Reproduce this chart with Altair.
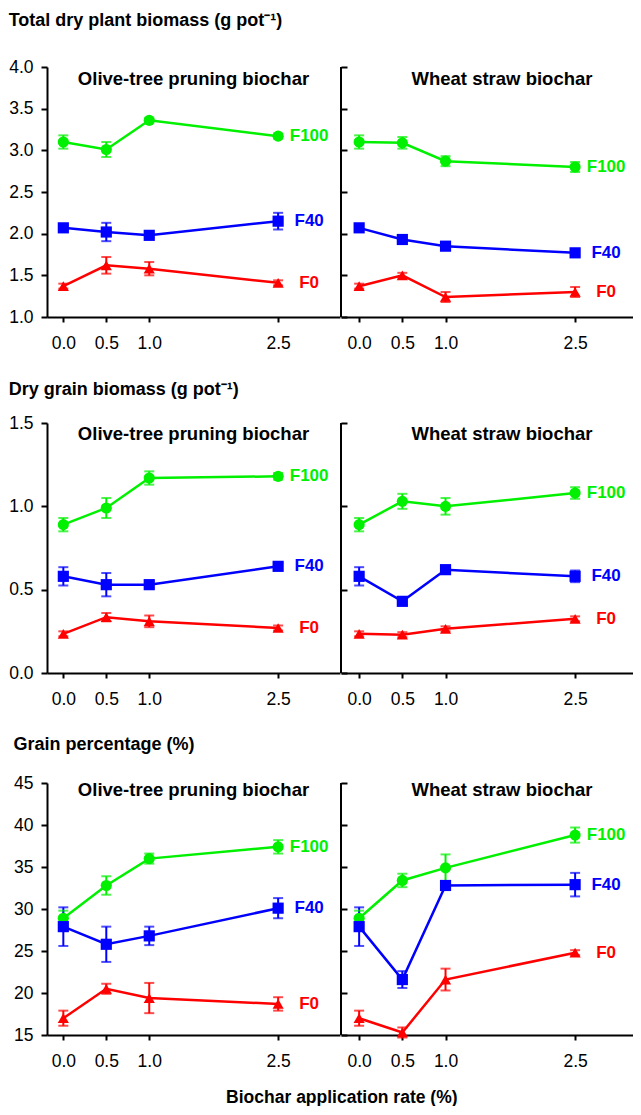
import altair as alt
import pandas as pd

FONT = "Liberation Sans"

rates = [0.0, 0.5, 1.0, 2.5]
treatments = ["F100", "F40", "F0"]
biochars = ["Olive-tree pruning biochar", "Wheat straw biochar"]
series_colors = ["#00f000", "#0000ff", "#ff0000"]
series_shapes = ["circle", "square", "triangle-up"]

# ---- Total dry plant biomass (g pot-1): means and error (+/-) ----
total_olive_F100 = [3.10, 3.01, 3.36, 3.17]
total_olive_F100_err = [0.08, 0.09, 0.03, 0.03]
total_olive_F40 = [2.07, 2.02, 1.98, 2.15]
total_olive_F40_err = [0.03, 0.11, 0.03, 0.10]
total_olive_F0 = [1.37, 1.62, 1.58, 1.41]
total_olive_F0_err = [0.03, 0.10, 0.08, 0.03]
total_wheat_F100 = [3.10, 3.09, 2.87, 2.80]
total_wheat_F100_err = [0.08, 0.07, 0.06, 0.06]
total_wheat_F40 = [2.07, 1.93, 1.85, 1.77]
total_wheat_F40_err = [0.03, 0.03, 0.03, 0.03]
total_wheat_F0 = [1.37, 1.50, 1.24, 1.30]
total_wheat_F0_err = [0.03, 0.03, 0.06, 0.06]

# ---- Dry grain biomass (g pot-1) ----
grain_olive_F100 = [0.89, 0.99, 1.17, 1.18]
grain_olive_F100_err = [0.04, 0.06, 0.04, 0.02]
grain_olive_F40 = [0.58, 0.53, 0.53, 0.64]
grain_olive_F40_err = [0.055, 0.07, 0.02, 0.02]
grain_olive_F0 = [0.235, 0.335, 0.31, 0.27]
grain_olive_F0_err = [0.015, 0.025, 0.035, 0.015]
grain_wheat_F100 = [0.89, 1.03, 1.00, 1.08]
grain_wheat_F100_err = [0.04, 0.045, 0.05, 0.035]
grain_wheat_F40 = [0.58, 0.43, 0.62, 0.58]
grain_wheat_F40_err = [0.055, 0.02, 0.02, 0.035]
grain_wheat_F0 = [0.235, 0.23, 0.265, 0.325]
grain_wheat_F0_err = [0.015, 0.015, 0.015, 0.015]

# ---- Grain percentage (%) ----
pct_olive_F100 = [28.9, 32.8, 36.0, 37.4]
pct_olive_F100_err = [0.9, 1.1, 0.6, 0.8]
pct_olive_F40 = [27.9, 25.8, 26.8, 30.1]
pct_olive_F40_err = [2.3, 2.1, 1.1, 1.2]
pct_olive_F0 = [17.0, 20.5, 19.4, 18.7]
pct_olive_F0_err = [0.9, 0.6, 1.8, 0.8]
pct_wheat_F100 = [28.9, 33.4, 34.9, 38.8]
pct_wheat_F100_err = [0.9, 0.8, 1.6, 0.9]
pct_wheat_F40 = [27.9, 21.6, 32.8, 32.9]
pct_wheat_F40_err = [2.3, 1.0, 0.3, 1.4]
pct_wheat_F0 = [17.0, 15.3, 21.6, 24.8]
pct_wheat_F0_err = [0.9, 0.6, 1.3, 0.3]

row_titles = [
    "Total dry plant biomass (g pot\u207b\u00b9)",
    "Dry grain biomass (g pot\u207b\u00b9)",
    "Grain percentage (%)",
]
x_title = "Biochar application rate (%)"

series = {
    ("total", 0): [(total_olive_F100, total_olive_F100_err), (total_olive_F40, total_olive_F40_err), (total_olive_F0, total_olive_F0_err)],
    ("total", 1): [(total_wheat_F100, total_wheat_F100_err), (total_wheat_F40, total_wheat_F40_err), (total_wheat_F0, total_wheat_F0_err)],
    ("grain", 0): [(grain_olive_F100, grain_olive_F100_err), (grain_olive_F40, grain_olive_F40_err), (grain_olive_F0, grain_olive_F0_err)],
    ("grain", 1): [(grain_wheat_F100, grain_wheat_F100_err), (grain_wheat_F40, grain_wheat_F40_err), (grain_wheat_F0, grain_wheat_F0_err)],
    ("pct", 0): [(pct_olive_F100, pct_olive_F100_err), (pct_olive_F40, pct_olive_F40_err), (pct_olive_F0, pct_olive_F0_err)],
    ("pct", 1): [(pct_wheat_F100, pct_wheat_F100_err), (pct_wheat_F40, pct_wheat_F40_err), (pct_wheat_F0, pct_wheat_F0_err)],
}

W_LEFT, W_RIGHT = 293, 292


def table(metric, side):
    rows = []
    for t, (vals, errs) in zip(treatments, series[(metric, side)]):
        for r, v, e in zip(rates, vals, errs):
            rows.append({"treatment": t, "rate": r, "mean": v, "lo": v - e, "hi": v + e})
    return pd.DataFrame(rows)


def panel(metric, side, ydom, yticks, yfmt, title_y, h):
    df = table(metric, side)
    w = W_LEFT if side == 0 else W_RIGHT
    xdom = [-0.19, 3.22] if side == 0 else [-0.21, 3.17]
    if side == 0:
        yaxis = alt.Axis(values=yticks, format=yfmt, title=None, tickSize=6, labelPadding=8)
    else:
        yaxis = alt.Axis(values=yticks, title=None, labels=False, domain=False, tickSize=6, offset=-6)
    xaxis = alt.Axis(values=rates, format=".1f", title=None, tickSize=5, labelPadding=12)
    xs = alt.Scale(domain=xdom, nice=False, zero=False)
    ys = alt.Scale(domain=ydom, nice=False, zero=False)

    def X():
        return alt.X("rate:Q", scale=xs, axis=xaxis)

    def Y(f):
        return alt.Y(f + ":Q", scale=ys, axis=yaxis)

    color = alt.Color("treatment:N", scale=alt.Scale(domain=treatments, range=series_colors), legend=None)
    shape = alt.Shape("treatment:N", scale=alt.Scale(domain=treatments, range=series_shapes), legend=None)
    base = alt.Chart(df)
    line = base.mark_line(strokeWidth=2.5).encode(x=X(), y=Y("mean"), color=color)
    bars = base.mark_rule(strokeWidth=2).encode(x=X(), y=Y("lo"), y2="hi:Q", color=color)
    cap_lo = base.mark_tick(orient="horizontal", size=10, thickness=2).encode(x=X(), y=Y("lo"), color=color)
    cap_hi = base.mark_tick(orient="horizontal", size=10, thickness=2).encode(x=X(), y=Y("hi"), color=color)
    pts = base.mark_point(filled=True, size=125, opacity=1).encode(x=X(), y=Y("mean"), color=color, shape=shape)
    labels = base.transform_filter(alt.datum.rate == 2.5).mark_text(
        align="center", baseline="middle", dx=31, fontSize=17, fontWeight="bold", font=FONT
    ).encode(x=X(), y=Y("mean"), text="treatment:N", color=color)
    ptitle = alt.Chart(pd.DataFrame({"t": [biochars[side]]})).mark_text(
        align="center", baseline="middle", fontSize=18.5, fontWeight="bold", font=FONT, color="black"
    ).encode(x=alt.value(146.5 if side == 0 else 161), y=alt.value(title_y), text="t:N")
    layers = [line, bars, cap_lo, cap_hi, pts, labels, ptitle]
    if side == 1:
        vline = alt.Chart(pd.DataFrame({"a": [0]})).mark_rule(color="black", strokeWidth=2).encode(
            x=alt.value(0), y=alt.value(0), y2=alt.value(h)
        )
        layers.append(vline)
    return alt.layer(*layers).properties(width=w, height=h)


def row(metric, title, offset, ydom, yticks, yfmt, title_y, h=250):
    return alt.hconcat(
        panel(metric, 0, ydom, yticks, yfmt, title_y, h),
        panel(metric, 1, ydom, yticks, yfmt, title_y, h),
        spacing=0,
        title=alt.TitleParams(
            title, anchor="start", frame="bounds", fontSize=18, fontWeight="bold",
            font=FONT, color="black", offset=offset,
        ),
    )


r1 = row("total", row_titles[0], 28.5, [1.0, 4.0], [1.0, 1.5, 2.0, 2.5, 3.0, 3.5, 4.0], ".1f", 12)
r2 = row("grain", row_titles[1], 15.5, [0.0, 1.5], [0.0, 0.5, 1.0, 1.5], ".1f", 11)
r3 = row("pct", row_titles[2], 20, [15, 45], [15, 20, 25, 30, 35, 40, 45], "d", 7, h=252)

chart = alt.vconcat(
    r1, r2, r3, spacing=28,
    title=alt.TitleParams(
        x_title, orient="bottom", anchor="middle", fontSize=17.5, fontWeight="bold",
        font=FONT, color="black", offset=19, dx=21,
    ),
).properties(
    padding={"left": 0, "top": 3, "right": 0, "bottom": 0}
).configure_view(stroke=None).configure_axis(
    grid=False,
    domainColor="black", domainWidth=2,
    tickColor="black", tickWidth=2,
    labelColor="black", labelFont=FONT, labelFontSize=17.5,
)

chart.save("out.html", embed_options={"renderer": "svg", "actions": False})
